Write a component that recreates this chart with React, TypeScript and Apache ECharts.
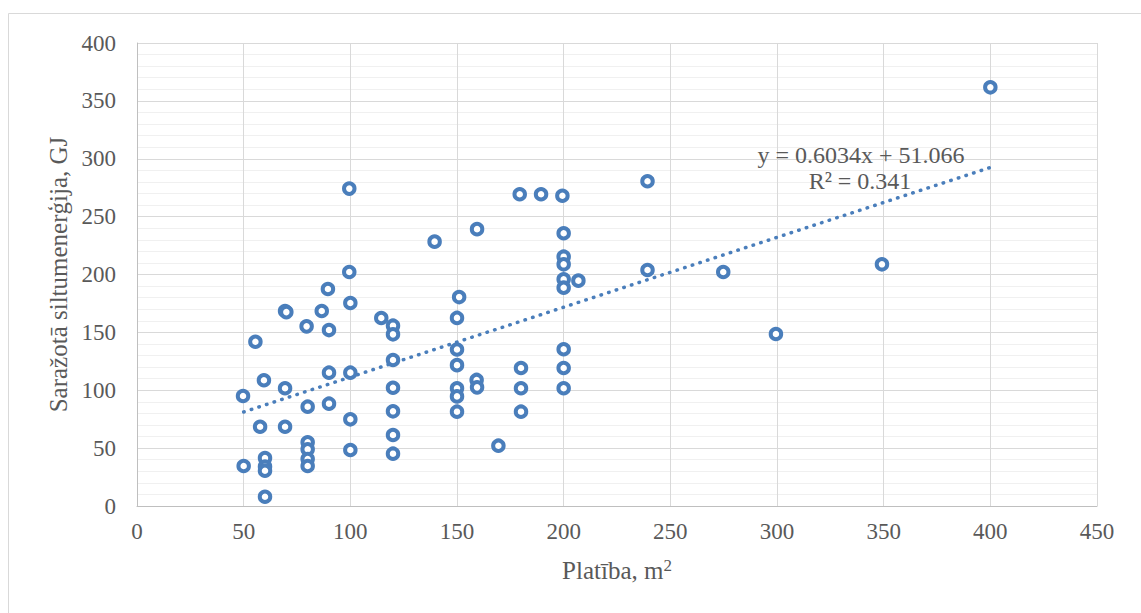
import React, { useEffect, useRef } from "react";
import * as echarts from "echarts";

// Platība, m² (x) and Saražotā siltumenerģija, GJ (y)
const areaValues: number[] = [
  50, 49.7, 55.5, 57.7, 59.5, 60, 60, 60, 60,
  69.4, 70, 69.4, 69.4,
  79.5, 80, 80, 80, 80, 80,
  86.6, 89.5, 90, 90, 90,
  99.5, 99.5, 100, 100, 100, 100,
  114.5, 120, 120, 120, 120, 120, 120, 120,
  139.5, 150, 150, 150, 150, 150, 150, 151,
  159.4, 159.2, 159.4, 169.4,
  179.4, 180, 180, 180, 189.4,
  199.4, 200, 200, 200, 200, 200, 200, 200, 200, 206.9,
  239.3, 239.3, 274.8, 299.5, 349.2, 400,
];
const energyValues: number[] = [
  34.6, 95, 141.9, 68.5, 108.6, 41.5, 34, 30.5, 8,
  168.5, 167.5, 101.7, 68.5,
  155.2, 85.8, 55, 49, 40.6, 34.6,
  168.5, 187.5, 152, 115.2, 88.4,
  274.2, 202.2, 175.4, 115.2, 74.9, 48.4,
  162.4, 155.8, 148.3, 126.1, 102.2, 81.8, 61.3, 45.2,
  228.4, 162.5, 135.2, 121.7, 101.7, 94.7, 81.5, 180.5,
  239.2, 108.9, 102.5, 52.1,
  269.3, 119.2, 101.7, 81.5, 269.3,
  268, 235.6, 215.4, 208.8, 195.8, 188.6, 135.4, 119.2, 101.7, 194.7,
  280.6, 203.9, 202.2, 148.6, 208.8, 361.7,
];

// Trendline as shown on the chart
const trendSlope = 0.6034;
const trendIntercept = 51.066;
const trendRange: number[] = [50, 400];
const trendLabelLines: string[] = ["y = 0.6034x + 51.066", "R² = 0.341"];

const xTitle = "Platība, m";
const yTitle = "Saražotā siltumenerģija, GJ";

const FONT = "Liberation Serif";
const TEXT = "#595959";
const BLUE = "#4a7ebb";

export default function App() {
  const ref = useRef<HTMLDivElement>(null);
  useEffect(() => {
    if (!ref.current) return;
    const chart = echarts.init(ref.current, undefined, { renderer: "svg" });
    const points = areaValues.map((x, i) => [x, energyValues[i]]);
    const trend = trendRange.map((x) => [x, trendSlope * x + trendIntercept]);
    chart.setOption({
      animation: false,
      backgroundColor: "#ffffff",
      textStyle: { fontFamily: FONT },
      grid: { left: 137, right: 44, top: 43, bottom: 107, containLabel: false },
      xAxis: {
        type: "value",
        min: 0,
        max: 450,
        interval: 50,
        axisLine: { show: true, lineStyle: { color: "#bfbfbf", width: 1 } },
        axisTick: { show: false },
        axisLabel: { color: TEXT, fontFamily: FONT, fontSize: 23, margin: 14 },
        splitLine: { show: true, lineStyle: { color: "#d9d9d9", width: 1 } },
        name: "{a|" + xTitle + "}{b|2}",
        nameLocation: "middle",
        nameGap: 51,
        nameTextStyle: {
          fontFamily: FONT,
          rich: {
            a: { fontFamily: FONT, fontSize: 25, color: TEXT },
            b: { fontFamily: FONT, fontSize: 17, color: TEXT, verticalAlign: "top", padding: [0, 0, 10, 0] },
          },
        },
      },
      yAxis: {
        type: "value",
        min: 0,
        max: 400,
        interval: 50,
        axisLine: { show: true, lineStyle: { color: "#bfbfbf", width: 1 } },
        axisTick: { show: false },
        axisLabel: { color: TEXT, fontFamily: FONT, fontSize: 23, margin: 21 },
        splitLine: { show: true, lineStyle: { color: "#d9d9d9", width: 1 } },
        minorTick: { show: false, splitNumber: 5 },
        minorSplitLine: { show: true, lineStyle: { color: "#f0f0f0", width: 1 } },
        name: yTitle,
        nameLocation: "middle",
        nameRotate: 90,
        nameGap: 64,
        nameTextStyle: { fontFamily: FONT, fontSize: 25, color: TEXT },
      },
      series: [
        {
          type: "line",
          data: trend,
          symbol: "none",
          silent: true,
          z: 1,
          lineStyle: { color: BLUE, width: 3.5, type: [0.5, 7.5], cap: "round" },
        },
        {
          type: "scatter",
          data: points,
          symbol: "circle",
          symbolSize: 10.5,
          z: 3,
          itemStyle: { color: "#ffffff", borderColor: BLUE, borderWidth: 4, opacity: 1 },
        },
      ],
      graphic: [
        {
          type: "rect",
          silent: true,
          z: -10,
          shape: { x: 8.5, y: 13.5, width: 1200, height: 700 },
          style: { fill: "none", stroke: "#d9d9d9", lineWidth: 1 },
        },
        {
          type: "text",
          x: 861,
          y: 155,
          z: 10,
          style: {
            text: trendLabelLines[0],
            fontFamily: FONT,
            fontSize: 24,
            fill: TEXT,
            textAlign: "center",
            textVerticalAlign: "middle",
          },
        },
        {
          type: "text",
          x: 860,
          y: 181,
          z: 10,
          style: {
            text: trendLabelLines[1],
            fontFamily: FONT,
            fontSize: 24,
            fill: TEXT,
            textAlign: "center",
            textVerticalAlign: "middle",
          },
        },
      ],
    });
    return () => chart.dispose();
  }, []);
  return (
    <div
      ref={ref}
      style={{ position: "fixed", left: 0, top: 0, width: 1141, height: 613, background: "#fff" }}
    />
  );
}
